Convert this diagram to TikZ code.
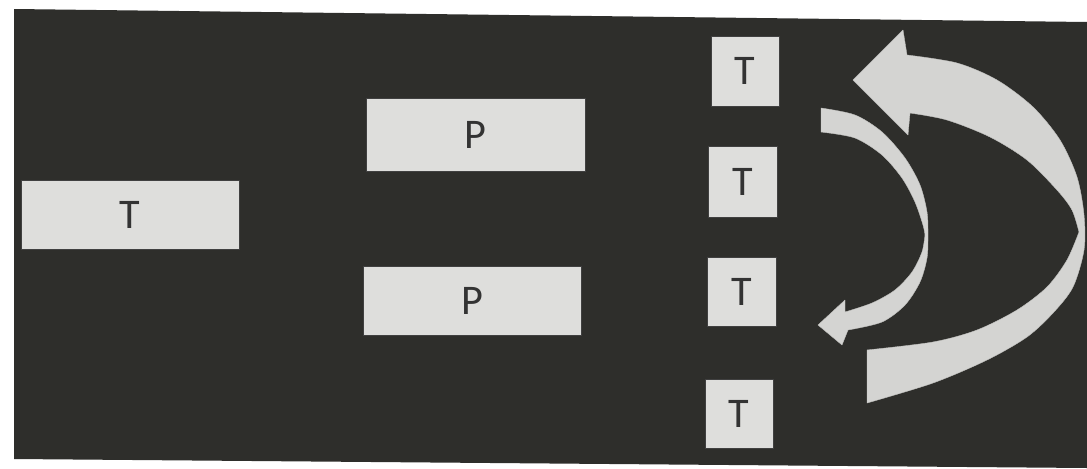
\documentclass[tikz,border=0pt]{standalone}
\usepackage{fontspec}
\setmainfont{Carlito}
\definecolor{bgdark}{RGB}{46,46,43}
\definecolor{boxgray}{RGB}{222,222,220}
\definecolor{arrowgray}{RGB}{212,212,210}
\tikzset{
  px/.style={x=0.025cm,y=-0.025cm},
  tbox/.style={draw=black!75, line width=0.5pt, fill=boxgray, inner sep=0pt,
    font=\fontsize{30}{36}\selectfont, text=black!80},
  arrowshape/.style={fill=arrowgray, draw=arrowgray!90!black, line width=0.3pt, line join=round}
}
\begin{document}
\begin{tikzpicture}[px]
\useasboundingbox (0,0) rectangle (1087,468);
\fill[white] (0,0) rectangle (1087,468);
% dark background
\fill[bgdark] (14,9) -- (1087,22) -- (1087,468) -- (14,459) -- cycle;
% boxes
\node[tbox, minimum width=5.45cm, minimum height=1.725cm] (t0) at (130,214.5) {T};
\node[tbox, minimum width=5.475cm, minimum height=1.825cm] (p1) at (475.5,134.5) {P};
\node[tbox, minimum width=5.45cm, minimum height=1.725cm] (p2) at (472,300.5) {P};
\node[tbox, minimum width=1.7cm, minimum height=1.75cm] (s1) at (745,71) {T};
\node[tbox, minimum width=1.725cm, minimum height=1.775cm] (s2) at (742.5,181.5) {T};
\node[tbox, minimum width=1.725cm, minimum height=1.725cm] (s3) at (741.5,291.5) {T};
\node[tbox, minimum width=1.7cm, minimum height=1.725cm] (s4) at (739,413.5) {T};
% big curved arrow
\path[arrowshape] (853,80) -- (903,30) -- (907,55)
  -- plot[smooth] coordinates {(907,55) (957,63) (997,80) (1033,107) (1060,140) (1077,177) (1084,215) (1084,250) (1073,287) (1053,313) (1027,337) (987,360) (933,383) (867,403)}
  -- (867,350)
  -- plot[smooth] coordinates {(867,350) (933,342) (977,330) (1017,310) (1047,287) (1067,260) (1079,232)}
  -- plot[smooth] coordinates {(1079,232) (1072,210) (1057,190) (1027,160) (990,137) (947,120) (910,113)}
  -- (908,135) -- cycle;
% small curved arrow
\path[arrowshape] (821,108)
  -- plot[smooth] coordinates {(821,108) (855,115) (882,132) (905,158) (920,185) (927,212) (928,235) (927,258) (920,282) (905,305) (882,322) (848,330)}
  -- (842,345) -- (818,325) -- (845,300) -- (845,312)
  -- plot[smooth] coordinates {(845,312) (872,303) (895,290) (912,272) (922,252) (925,235)}
  -- plot[smooth] coordinates {(925,235) (923,225) (915,202) (902,178) (882,155) (855,138) (821,132)}
  -- cycle;
\end{tikzpicture}
\end{document}
